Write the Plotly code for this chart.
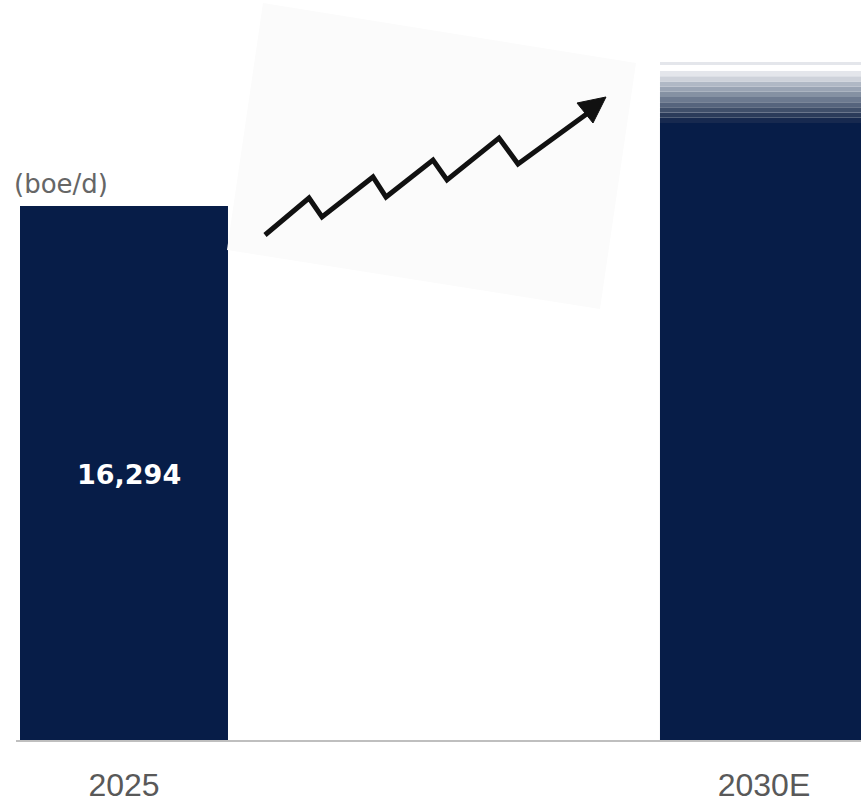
import plotly.graph_objects as go

# ---- data ----
categories = ["2025", "2030E"]
values = [16294, 20690]          # boe/d (2030E top fades out)
value_labels = ["16,294", ""]
unit_label = "(boe/d)"

# fade bands on top of the 2030E bar (fractions of its value) and colours
fade_start_frac = 0.910
fade_end_frac = 0.9866
fade_colors = ["#17294F", "#2B3B5A", "#404F6A", "#56647D", "#6D7A90",
               "#8591A3", "#9AA4B4", "#B0B8C5", "#CED2DA", "#E4E6EB"]
top_line_frac = (0.9955, 1.0)

NAVY = "#071D48"
W, H = 861, 804
L, R, T, B = 16, 0, 0, 64
PW, PH = W - L - R, H - T - B

bar_width = 0.325
x_range = [-0.16875, 1.1516]
y_max = values[0] * PH / 534.0

fig = go.Figure()

# solid parts
solid = [values[0], values[1] * fade_start_frac]
fig.add_trace(go.Bar(
    x=categories, y=solid, width=[bar_width] * 2,
    marker=dict(color=NAVY, line=dict(width=0)),
    hoverinfo="skip", showlegend=False,
))

# fade bands on 2030E
n = len(fade_colors)
span = values[1] * (fade_end_frac - fade_start_frac)
for i, c in enumerate(fade_colors):
    fig.add_trace(go.Bar(
        x=[categories[1]], y=[span / n],
        base=[values[1] * fade_start_frac + i * span / n],
        width=[bar_width], marker=dict(color=c, line=dict(width=0)),
        hoverinfo="skip", showlegend=False,
    ))
fig.add_trace(go.Bar(
    x=[categories[1]], y=[values[1] * (top_line_frac[1] - top_line_frac[0])],
    base=[values[1] * top_line_frac[0]],
    width=[bar_width], marker=dict(color="#E4E6EB", line=dict(width=0)),
    hoverinfo="skip", showlegend=False,
))


# ---- decorative tilted card with zig-zag arrow (pixel -> paper) ----
def px(x, y):
    return ((x - L) / PW, (T + PH - y) / PH)


def path(points, close=False):
    s = ""
    for k, (x, y) in enumerate(points):
        u, v = px(x, y)
        s += ("M" if k == 0 else "L") + f"{u:.5f},{v:.5f} "
    return s + ("Z" if close else "")


card = [(263, 3), (636, 63), (600, 309), (227, 250)]
zig = [(265, 235), (309, 198), (322, 217), (373, 177), (386, 197), (433, 160),
       (447, 180), (499, 138), (518, 164), (588, 113)]
head = [(606, 97), (577, 103), (593, 123)]

shapes = [
    dict(type="path", xref="paper", yref="paper", path=path(card, True),
         fillcolor="#FBFBFB", line=dict(width=0), layer="above"),
    dict(type="path", xref="paper", yref="paper", path=path(zig),
         line=dict(color="#111111", width=5), layer="above"),
    dict(type="path", xref="paper", yref="paper", path=path(head, True),
         fillcolor="#111111", line=dict(color="#111111", width=1), layer="above"),
]

ux, uy = px(12, 184)

annotations = [
    dict(text=unit_label, xref="paper", yref="paper", x=ux, y=uy,
         xanchor="left", yanchor="middle", showarrow=False,
         font=dict(family="DejaVu Sans", size=26, color="#666666")),
]
for i, (v, lab) in enumerate(zip(values, value_labels)):
    if lab:
        annotations.append(dict(
            text=f"<b>{lab}</b>", x=i, y=v / 2, xref="x", yref="y",
            xshift=5, yshift=-1,
            showarrow=False, xanchor="center", yanchor="middle",
            font=dict(family="DejaVu Sans", size=27, color="white")))

fig.update_layout(
    width=W, height=H,
    margin=dict(l=L, r=R, t=T, b=B, pad=0, autoexpand=False),
    paper_bgcolor="white", plot_bgcolor="white",
    barmode="overlay", showlegend=False,
    shapes=shapes,
    annotations=annotations,
    xaxis=dict(
        type="category", range=x_range, showgrid=False, zeroline=False,
        showline=True, linecolor="#BFBFBF", linewidth=2, ticks="",
        tickfont=dict(family="Liberation Sans", size=32, color="#595959"),
        ticklabelstandoff=16, automargin=False,
    ),
    yaxis=dict(range=[0, y_max], visible=False, showgrid=False, zeroline=False,
               automargin=False),
)

fig.write_html("out.html", config={"displayModeBar": False},
               post_script="document.body.style.margin='0';document.body.style.overflow='hidden';")
